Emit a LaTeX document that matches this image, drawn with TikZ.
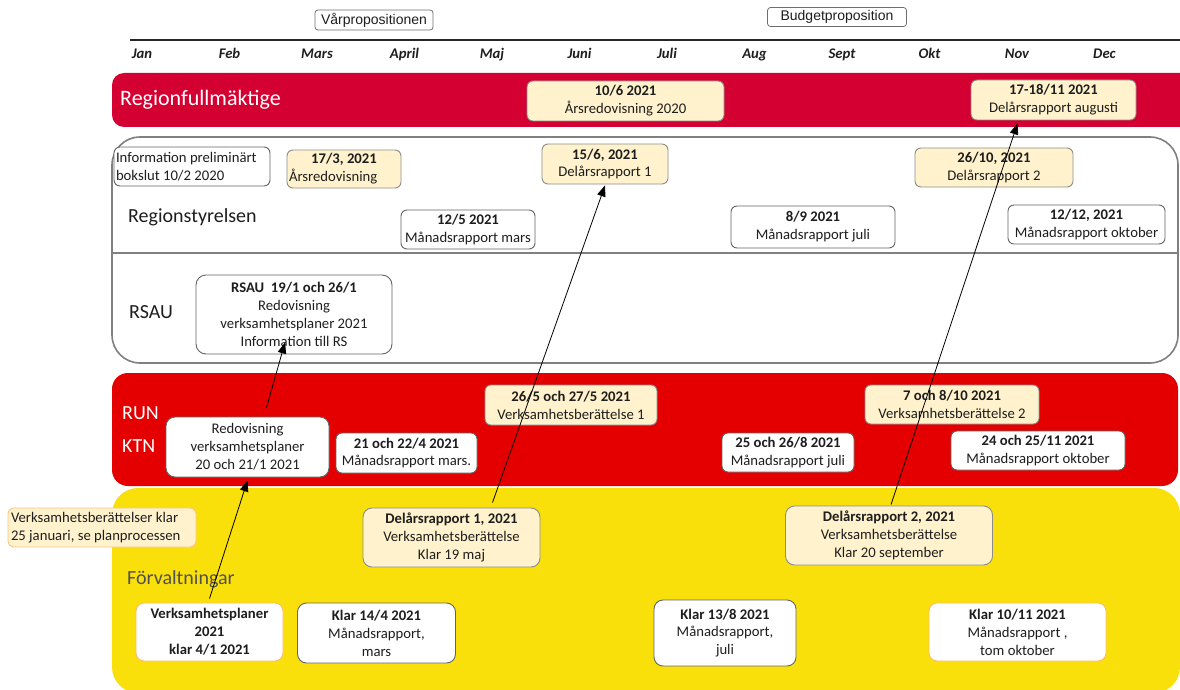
\documentclass[tikz,border=0pt]{standalone}
\usepackage{fontspec}
\setmainfont{Carlito}
\newfontfamily\arialf{Liberation Sans}
\usetikzlibrary{arrows.meta,calc}
\definecolor{rfred}{RGB}{213,0,50}
\definecolor{runred}{RGB}{228,0,0}
\definecolor{fyellow}{RGB}{249,224,10}
\definecolor{lightyel}{RGB}{255,242,204}
\definecolor{ybord}{RGB}{140,140,140}
\definecolor{wbord}{RGB}{100,100,100}
\definecolor{rsbord}{RGB}{128,128,128}
\definecolor{txt}{RGB}{30,30,30}
\definecolor{fvtxt}{RGB}{80,80,80}
\definecolor{hbord}{RGB}{110,110,110}
\begin{document}
\begin{tikzpicture}[x=1pt,y=-1pt,
  every node/.style={font=\fontsize{14.7}{17.9}\selectfont, text=txt},
  wbox/.style={draw=wbord, fill=white, rounded corners=6pt, line width=0.9pt, align=center, inner sep=2pt},
  ybox/.style={wbox, fill=lightyel, draw=ybord},
  hbox/.style={draw=hbord, fill=white, rounded corners=3pt, line width=0.8pt, inner sep=1pt, font=\arialf\fontsize{14}{16}\selectfont},
  arr/.style={-{Triangle[length=11pt,width=8.5pt]}, line width=0.8pt, black},
  lbl/.style={anchor=west, inner sep=0pt, font=\fontsize{20}{24}\selectfont},
  month/.style={inner sep=0pt, anchor=base, font=\fontsize{14.7}{17.9}\selectfont\bfseries\itshape},
]
\useasboundingbox (0,0) rectangle (1180,690);
\clip (0,0) rectangle (1180,690);

% header
\node[hbox, minimum width=118pt, minimum height=20pt] (vprop) at (374,20) {Vårpropositionen};
\node[hbox, minimum width=139pt, minimum height=19pt] (bprop) at (837,17) {Budgetproposition};
\draw[line width=1.8pt, black!85] (130,40) -- (1180,40);
\foreach \m [count=\i] in {Jan,Feb,Mars,April,Maj,Juni,Juli,Aug,Sept,Okt,Nov,Dec}
  \node[month] (m\i) at ({142+87.5*(\i-1)},59) {\m};

% bands
\fill[rfred, rounded corners=12pt] (112,73) rectangle (1200,127);
\draw[rsbord, line width=1.6pt, fill=white, rounded corners=28pt] (112,137) rectangle (1178,363);
\draw[rsbord, line width=1.2pt] (112,253) -- (1178,253);
\fill[runred, rounded corners=16pt] (112,373) rectangle (1178,486);
\fill[fyellow, rounded corners=26pt] (112,488) rectangle (1180,693);

% band labels
\node[lbl, text=white, font=\fontsize{22}{26}\selectfont] (lrf) at (120,100) {Regionfullmäktige};
\node[lbl] (lrs) at (128,217) {Regionstyrelsen};
\node[lbl] (lrsau) at (129,312) {RSAU};
\node[lbl, text=white] (lrun) at (122,413) {RUN};
\node[lbl, text=white] (lktn) at (122,446) {KTN};
\node[lbl, text=fvtxt] (lfv) at (127,579) {Förvaltningar};

% Regionfullmäktige
\node[ybox, minimum width=197pt, minimum height=40pt] (rf1) at (625.5,101) {\textbf{10/6 2021}\\Årsredovisning 2020};
\node[ybox, minimum width=165pt, minimum height=40pt] (rf2) at (1053.5,100) {\textbf{17-18/11 2021}\\Delårsrapport augusti};

% Regionstyrelsen
\node[wbox, align=flush left, text width=152pt, inner xsep=2pt, minimum height=39pt] (info) at (192,166.5) {Information preliminärt\\bokslut 10/2 2020};
\node[ybox, align=flush left, text width=110pt, inner xsep=2pt, minimum height=38pt] (rs1) at (344,169) {\hfill\textbf{17/3, 2021}\hfill\null\\Årsredovisning};
\node[ybox, minimum width=126pt, minimum height=40pt] (rs2) at (605,164) {\textbf{15/6, 2021}\\Delårsrapport 1};
\node[ybox, minimum width=158pt, minimum height=39pt] (rs3) at (994,167.5) {\textbf{26/10, 2021}\\Delårsrapport 2};
\node[wbox, minimum width=134pt, minimum height=39pt] (rs4) at (468,229.5) {\textbf{12/5 2021}\\Månadsrapport mars};
\node[wbox, minimum width=164pt, minimum height=42pt] (rs5) at (813,227) {\textbf{8/9 2021}\\Månadsrapport juli};
\node[wbox, minimum width=157pt, minimum height=39pt] (rs6) at (1086.5,224.5) {\textbf{12/12, 2021}\\Månadsrapport oktober};

% RSAU
\node[wbox, rounded corners=10pt, minimum width=196pt, minimum height=79pt] (rsau) at (294,314.5) {\textbf{RSAU\ \ 19/1 och 26/1}\\Redovisning\\verksamhetsplaner 2021\\Information till RS};

% RUN / KTN
\node[wbox, rounded corners=9pt, minimum width=163pt, minimum height=60pt] (redov) at (247.5,447) {Redovisning\\verksamhetsplaner\\20 och 21/1 2021};
\node[wbox, minimum width=141pt, minimum height=40pt] (run1) at (406.5,453) {\textbf{21 och 22/4 2021}\\Månadsrapport mars.};
\node[ybox, minimum width=172pt, minimum height=40pt] (run2) at (571,405) {\textbf{26/5 och 27/5 2021}\\Verksamhetsberättelse 1};
\node[wbox, minimum width=132pt, minimum height=39pt] (run3) at (788,452.5) {\textbf{25 och 26/8 2021}\\Månadsrapport juli};
\node[ybox, minimum width=174pt, minimum height=39pt] (run4) at (952,404.5) {\textbf{7 och 8/10 2021}\\Verksamhetsberättelse 2};
\node[wbox, minimum width=174pt, minimum height=39pt] (run5) at (1038,450.5) {\textbf{24 och 25/11 2021}\\Månadsrapport oktober};

% Förvaltningar
\node[ybox, draw=lightyel!60!orange, align=flush left, text width=182pt, inner xsep=3pt, minimum height=39pt] (vbk) at (102,527.5) {Verksamhetsberättelser klar\\25 januari, se planprocessen};
\node[ybox, rounded corners=9pt, minimum width=177pt, minimum height=59pt] (del1) at (451.5,537.5) {\textbf{Delårsrapport 1, 2021}\\Verksamhetsberättelse\\Klar 19 maj};
\node[ybox, rounded corners=9pt, minimum width=207pt, minimum height=59pt] (del2) at (889,535.5) {\textbf{Delårsrapport 2, 2021}\\Verksamhetsberättelse\\Klar 20 september};
\node[wbox, draw=lightyel!50!orange, rounded corners=8pt, minimum width=147pt, minimum height=58pt, font=\fontsize{14.7}{17.9}\selectfont\bfseries] (vp) at (209.5,632) {Verksamhetsplaner\\2021\\klar 4/1 2021};
\node[wbox, rounded corners=9pt, minimum width=158pt, minimum height=60pt] (k1) at (376.5,633) {\textbf{Klar 14/4 2021}\\Månadsrapport,\\mars};
\node[wbox, rounded corners=9pt, minimum width=142pt, minimum height=66pt] (k2) at (725,633) {\textbf{Klar 13/8 2021}\\Månadsrapport,\\juli};
\node[wbox, draw=lightyel!50!orange, rounded corners=8pt, minimum width=177pt, minimum height=58pt] (k3) at (1017.5,632) {\textbf{Klar 10/11 2021}\\Månadsrapport ,\\tom oktober};

% connectors
\draw[arr] ($(vp.north)+(0,-4)$) -- ($(redov.south)+(0,3)$);
\draw[arr] ($(redov.north)+(19,-9)$) -- ($(rsau.south)+(-9,-12)$);
\draw[arr] ($(del1.north)+(41,-5)$) -- ($(rs2.south)+(0,1)$);
\draw[arr] ($(del2.north)+(2,-1)$) -- ($(rf2.south)+(-36,3)$);
\end{tikzpicture}
\end{document}
